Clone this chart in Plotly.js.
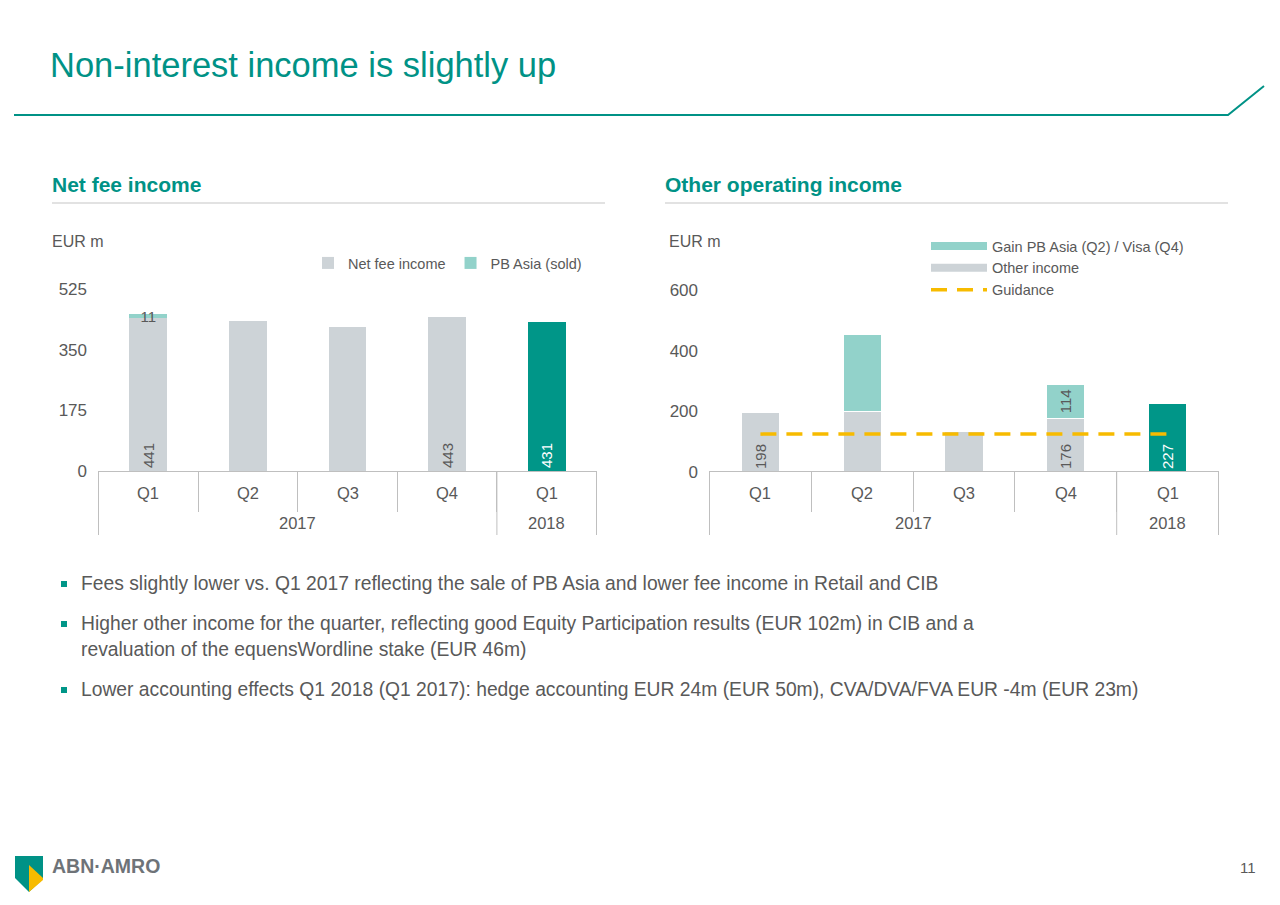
<!DOCTYPE html>
<html>
<head>
<meta charset="utf-8">
<script src="https://cdn.plot.ly/plotly-3.0.1.min.js"></script>
<style>
html,body{margin:0;padding:0;background:#fff;}
#chart{width:1280px;height:905px;}
</style>
</head>
<body>
<div id="chart"></div>
<script>
// ---- Data ----
const years = ["2017", "2017", "2017", "2017", "2018"];
const quarters = ["Q1", "Q2", "Q3", "Q4", "Q1"];

// Net fee income (EUR m)
const netFeeIncome = [441, 432, 415, 443, 431];
const pbAsiaSold = [11, 0, 0, 0, 0];
const netFeeLabels = ["441", "", "", "443", "431"];
const pbAsiaLabels = ["11", "", "", "", ""];

// Other operating income (EUR m)
const otherIncome = [198, 200, 135, 176, 227];
const gainPbAsiaVisa = [0, 255, 0, 114, 0];
const otherLabels = ["198", "", "", "176", "227"];
const gainLabels = ["", "", "", "114", ""];
const guidance = [125, 125, 125, 125, 125];

const leftTicks = [0, 175, 350, 525];
const rightTicks = [0, 200, 400, 600];

// ---- Styling ----
const GREY = "#CDD3D7";
const LTEAL = "#92D2CA";
const DTEAL = "#009688";
const TITLE = "#009286";
const TXT = "#595959";
const AXIS = "#BFBFBF";
const GOLD = "#F7BB00";
const FONT = "Liberation Sans, Arial, sans-serif";

const W = 1280, H = 905;
const px = x => x / W;
const py = y => 1 - y / H;

const barColors = [GREY, GREY, GREY, GREY, DTEAL];
const labelColors = [TXT, TXT, TXT, TXT, "#ffffff"];
const xcat = [years, quarters];

const traces = [
  {
    type: "bar", name: "Net fee income", x: xcat, y: netFeeIncome,
    xaxis: "x", yaxis: "y", width: 0.38,
    marker: {color: barColors},
    text: netFeeLabels, textposition: "inside", insidetextanchor: "start",
    textangle: -90, textfont: {size: 15, color: labelColors, family: FONT},
    hoverinfo: "skip", legend: "legend"
  },
  {
    type: "bar", name: "PB Asia (sold)", x: xcat, y: pbAsiaSold,
    xaxis: "x", yaxis: "y", width: 0.38,
    marker: {color: LTEAL},
    text: pbAsiaLabels, textposition: "inside", insidetextanchor: "middle",
    textangle: 0, constraintext: "none",
    textfont: {size: 15, color: TXT, family: FONT},
    hoverinfo: "skip", legend: "legend"
  },
  {
    type: "bar", name: "Other income", x: xcat, y: otherIncome,
    xaxis: "x2", yaxis: "y2", width: 0.38, showlegend: false,
    marker: {color: barColors, line: {color: "#ffffff", width: 1.5}},
    text: otherLabels, textposition: "inside", insidetextanchor: "start",
    textangle: -90, textfont: {size: 15, color: labelColors, family: FONT},
    hoverinfo: "skip"
  },
  {
    type: "bar", name: "Gain PB Asia (Q2) / Visa (Q4)", x: xcat, y: gainPbAsiaVisa,
    xaxis: "x2", yaxis: "y2", width: 0.38, showlegend: false,
    marker: {color: LTEAL, line: {color: "#ffffff", width: 1.5}},
    text: gainLabels, textposition: "inside", insidetextanchor: "middle",
    textangle: -90, textfont: {size: 15, color: TXT, family: FONT},
    hoverinfo: "skip"
  },
  // legend entries for the right chart
  {
    type: "scatter", mode: "lines", name: "Gain PB Asia (Q2) / Visa (Q4)",
    x: [null], y: [null], xaxis: "x3", yaxis: "y3",
    line: {color: LTEAL, width: 8}, legend: "legend2", hoverinfo: "skip"
  },
  {
    type: "scatter", mode: "lines", name: "Other income",
    x: [null], y: [null], xaxis: "x3", yaxis: "y3",
    line: {color: GREY, width: 8}, legend: "legend2", hoverinfo: "skip"
  },
  {
    type: "scatter", mode: "lines", name: "Guidance", x: xcat, y: guidance,
    xaxis: "x2", yaxis: "y2",
    line: {color: GOLD, width: 3.5, dash: "16px,10px"},
    legend: "legend2", hoverinfo: "skip"
  }
];

function xAxis(d) {
  return {
    type: "multicategory", domain: d,
    showline: true, linecolor: AXIS, linewidth: 1,
    ticks: "outside", tickson: "boundaries", ticklen: 40, tickcolor: AXIS, tickwidth: 1,
    showticklabels: false, showdividers: false,
    showgrid: false, zeroline: false, fixedrange: true
  };
}
function yAxis(d, range, ticks, anchor) {
  return {
    domain: d, range: range, tickvals: ticks, ticktext: ticks.map(String),
    showline: false, showgrid: false, zeroline: false, ticks: "",
    ticklabelstandoff: 10, anchor: anchor,
    tickfont: {size: 17, color: TXT, family: FONT}, fixedrange: true
  };
}

const shapes = [
  // title rule
  {type: "path", xref: "paper", yref: "paper",
   path: `M${px(14)},${py(115)} L${px(1228)},${py(115)} L${px(1264)},${py(86)}`,
   line: {color: TITLE, width: 2}},
  // section rules
  {type: "line", xref: "paper", yref: "paper", x0: px(52), x1: px(605), y0: py(203), y1: py(203),
   line: {color: "#D9D9D9", width: 1.5}},
  {type: "line", xref: "paper", yref: "paper", x0: px(665), x1: px(1228), y0: py(203), y1: py(203),
   line: {color: "#D9D9D9", width: 1.5}},
  // logo shield
  {type: "path", xref: "paper", yref: "paper",
   path: `M${px(15)},${py(856)} L${px(43)},${py(856)} L${px(43)},${py(879)} L${px(29)},${py(892)} L${px(15)},${py(878)} Z`,
   fillcolor: "#009286", line: {width: 0}},
  {type: "path", xref: "paper", yref: "paper",
   path: `M${px(29)},${py(865)} L${px(43)},${py(878)} L${px(43)},${py(880)} L${px(29)},${py(892)} Z`,
   fillcolor: "#F7BB00", line: {width: 0}}
];

// bullets
const bulletY = [583, 623, 689];
bulletY.forEach(y => shapes.push({
  type: "rect", xref: "paper", yref: "paper",
  x0: px(61), x1: px(67), y0: py(y - 2), y1: py(y + 4),
  fillcolor: DTEAL, line: {width: 0}
}));

function ann(text, x, y, size, color, opts) {
  return Object.assign({
    text: text, xref: "paper", yref: "paper", x: px(x), y: py(y),
    xanchor: "left", yanchor: "middle", showarrow: false,
    font: {size: size, color: color, family: FONT}
  }, opts || {});
}

const BUL = 19.3;
const annotations = [
  ann("<b>Net fee income</b>", 50, 184, 21, TITLE),
  ann("<b>Other operating income</b>", 663, 184, 21, TITLE),
  ann("EUR m", 50, 241, 16, TXT),
  ann("EUR m", 667, 241, 16, TXT),
  ann("Fees slightly lower vs. Q1 2017 reflecting the sale of PB Asia and lower fee income in Retail and CIB", 79, 583, BUL, TXT),
  ann("Higher other income for the quarter, reflecting good Equity Participation results (EUR 102m) in CIB and a", 79, 623, BUL, TXT),
  ann("revaluation of the equensWordline stake (EUR 46m)", 79, 649, BUL, TXT),
  ann("Lower accounting effects Q1 2018 (Q1 2017): hedge accounting EUR 24m (EUR 50m), CVA/DVA/FVA EUR -4m (EUR 23m)", 79, 689, BUL, TXT),
  ann("11", 1258, 867, 15, TXT, {xanchor: "right"}),
  ann("<b>ABN·AMRO</b>", 50, 866, 19.5, "#6E7378", {font: {size: 19.5, color: "#6E7378", family: "Liberation Sans Narrow, Arial Narrow, Liberation Sans, sans-serif"}})
];

// Category axis labels (two levels) and group dividers, built from the category arrays
["x", "x2"].forEach(xr => {
  quarters.forEach((q, i) => annotations.push({
    text: q, xref: xr, yref: "paper", x: i, y: py(493),
    xanchor: "center", yanchor: "middle", showarrow: false,
    font: {size: 16.5, color: TXT, family: FONT}
  }));
  // year groups
  const groups = [];
  years.forEach((yv, i) => {
    const g = groups[groups.length - 1];
    if (g && g.name === yv) g.end = i; else groups.push({name: yv, start: i, end: i});
  });
  groups.forEach(g => {
    annotations.push({
      text: g.name, xref: xr, yref: "paper", x: (g.start + g.end) / 2, y: py(523),
      xanchor: "center", yanchor: "middle", showarrow: false,
      font: {size: 16.5, color: TXT, family: FONT}
    });
  });
  const bounds = [groups[0].start - 0.5].concat(groups.map(g => g.end + 0.5));
  bounds.forEach(b => shapes.push({
    type: "line", xref: xr, yref: "paper", x0: b, x1: b,
    y0: py(xr === "x" ? 471 : 472), y1: py(535),
    line: {color: AXIS, width: 1}
  }));
});

const layout = {
  width: W, height: H,
  margin: {l: 0, r: 0, t: 0, b: 0},
  paper_bgcolor: "#ffffff", plot_bgcolor: "rgba(0,0,0,0)",
  font: {family: FONT, color: TXT},
  title: {text: "Non-interest income is slightly up", x: px(50), xanchor: "left",
          y: py(65), yanchor: "middle", xref: "paper", yref: "paper",
          font: {size: 34.5, color: TITLE, family: FONT}},
  barmode: "stack",
  xaxis: xAxis([px(98), px(597)]),
  yaxis: yAxis([py(471), py(289)], [0, 525], leftTicks, "x"),
  xaxis2: xAxis([px(709), px(1219)]),
  yaxis2: yAxis([py(472), py(290)], [0, 600], rightTicks, "x2"),
  xaxis3: {visible: false, domain: [0, 0.01], anchor: "y3"},
  yaxis3: {visible: false, domain: [0, 0.01], anchor: "x3"},
  legend: {orientation: "h", x: px(308), y: py(263), xanchor: "left", yanchor: "middle",
           traceorder: "normal", font: {size: 14.5, color: TXT, family: FONT},
           bgcolor: "rgba(0,0,0,0)", itemwidth: 30},
  legend2: {orientation: "v", x: px(926), y: py(268), xanchor: "left", yanchor: "middle",
            traceorder: "normal", font: {size: 14.5, color: TXT, family: FONT},
            bgcolor: "rgba(0,0,0,0)", itemwidth: 56, tracegroupgap: 0},
  shapes: shapes,
  annotations: annotations,
  showlegend: true
};

Plotly.newPlot("chart", traces, layout, {displayModeBar: false, staticPlot: true});
</script>
</body>
</html>
